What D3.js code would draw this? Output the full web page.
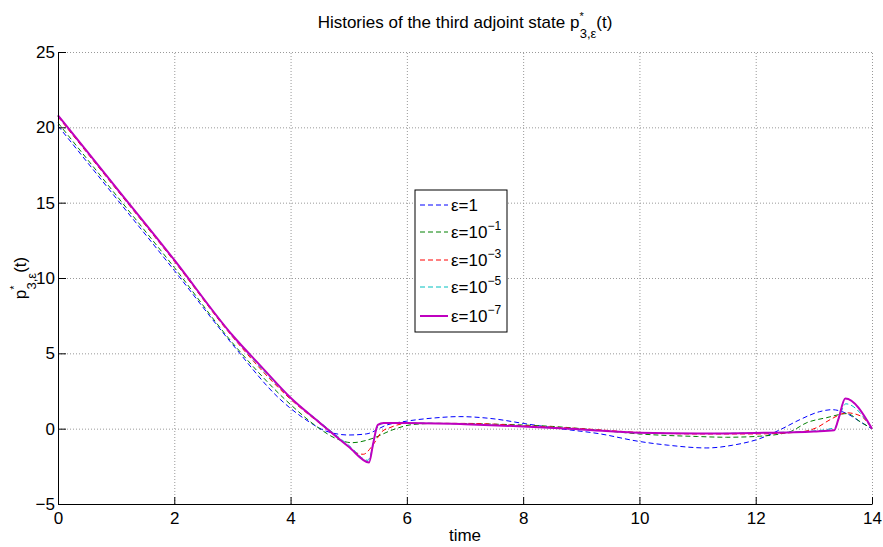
<!DOCTYPE html>
<html>
<head>
<meta charset="utf-8">
<script src="https://cdn.jsdelivr.net/npm/d3@7"></script>
<style>
  body { margin: 0; background: #fff; }
  svg { font-family: "Liberation Sans", Arial, Helvetica, sans-serif; }
</style>
</head>
<body>
<div id="chart"></div>
<script>
// tick values
var xTicks = [0, 2, 4, 6, 8, 10, 12, 14];
var yTicks = [-5, 0, 5, 10, 15, 20, 25];

// eps = 1
var tEps1 = [0, 1, 2, 3, 3.82, 4.3, 4.6, 5, 5.3, 5.66, 6, 6.5, 6.9, 7.5, 8, 8.63, 9.3, 10, 10.5, 11.16, 11.6, 12.07, 12.42, 12.76, 13.1, 13.31, 13.57, 13.8, 14];
var pEps1 = [20.1, 15.3, 10.5, 5.6, 1.95, 0.5, -0.15, -0.42, -0.35, 0.25, 0.5, 0.72, 0.8, 0.65, 0.35, 0, -0.33, -0.85, -1.1, -1.28, -1.1, -0.66, -0.07, 0.6, 1.13, 1.26, 1.0, 0.45, 0];
// eps = 1e-1
var tEps2 = [0, 1, 2, 3, 4, 4.5, 4.75, 5.06, 5.4, 5.76, 6.09, 6.5, 7.5, 8.5, 9.3, 10, 11, 11.5, 12.07, 12.59, 12.88, 13.22, 13.57, 13.8, 14];
var pEps2 = [20.3, 15.5, 10.7, 5.7, 1.6, 0, -0.6, -0.93, -0.66, -0.07, 0.27, 0.35, 0.3, 0.15, -0.1, -0.35, -0.52, -0.57, -0.5, -0.2, 0.4, 0.73, 1.0, 0.45, 0];
// eps = 1e-3
var tEps3 = [0, 1, 2, 3, 4, 4.5, 5, 5.1, 5.25, 5.42, 5.57, 5.71, 6, 7, 8, 9, 10, 11, 12, 12.8, 13.05, 13.28, 13.57, 13.8, 14];
var pEps3 = [20.7, 15.9, 11.1, 6.1, 1.95, 0.35, -1.2, -1.55, -1.7, -1.06, -0.2, 0.07, 0.35, 0.35, 0.2, 0, -0.25, -0.35, -0.35, -0.2, 0.07, 0.6, 1.05, 0.85, 0];
// eps = 1e-5
var tEps4 = [0, 1, 2, 3, 4, 4.5, 5, 5.33, 5.4, 5.48, 5.6, 6, 7, 8, 9, 10, 11, 12, 13, 13.36, 13.45, 13.55, 14];
var pEps4 = [20.8, 16.0, 11.2, 6.2, 2.05, 0.45, -1.1, -2.1, -1.4, 0, 0.35, 0.38, 0.3, 0.15, -0.05, -0.27, -0.32, -0.28, -0.15, 0.07, 0.93, 1.65, 0];
// eps = 1e-7
var tEps5 = [0, 1, 2, 3, 3.5, 4, 4.5, 5, 5.35, 5.42, 5.5, 5.6, 6, 7, 8, 9, 10, 11, 12, 13, 13.35, 13.42, 13.54, 14];
var pEps5 = [20.8, 16.0, 11.2, 6.2, 4.1, 2.05, 0.4, -1.2, -2.24, -1.0, 0.25, 0.38, 0.38, 0.3, 0.15, -0.05, -0.27, -0.32, -0.28, -0.18, -0.1, 0.6, 2.0, 0];

var seriesNames = ["1", "−1", "−3", "−5", "−7"];

var series = [
    { t: tEps1, p: pEps1, color: "#0000ff", dash: "5,3", w: 1 },
    { t: tEps2, p: pEps2, color: "#008000", dash: "5,3", w: 1 },
    { t: tEps3, p: pEps3, color: "#ff0000", dash: "5,3", w: 1 },
    { t: tEps4, p: pEps4, color: "#00bfbf", dash: "5,3", w: 1 },
    { t: tEps5, p: pEps5, color: "#bf00bf", dash: null, w: 2 }
];

var width = 883,
    height = 547,
    margin = { left: 58, right: 11, top: 52, bottom: 43 };

var svg = d3.select("#chart").append("svg")
    .attr("width", width)
    .attr("height", height);

var x = d3.scaleLinear().domain([0, 14]).range([margin.left, width - margin.right]);
var y = d3.scaleLinear().domain([-5, 25]).range([height - margin.bottom, margin.top]);

// dotted grid
svg.append("g")
    .attr("transform", "translate(0," + y(-5) + ")")
    .call(d3.axisBottom(x).tickValues(xTicks.slice(1)).tickSize(-(y(-5) - y(25))).tickFormat(""))
    .call(g => g.select(".domain").remove())
    .call(g => g.selectAll("line").attr("stroke", "#999").attr("stroke-dasharray", "1,2"));
svg.append("g")
    .attr("transform", "translate(" + x(0) + ",0)")
    .call(d3.axisLeft(y).tickValues(yTicks.slice(1)).tickSize(-(x(14) - x(0))).tickFormat(""))
    .call(g => g.select(".domain").remove())
    .call(g => g.selectAll("line").attr("stroke", "#999").attr("stroke-dasharray", "1,2"));

// curves
var line = d3.line()
    .x(d => x(d[0]))
    .y(d => y(d[1]))
    .curve(d3.curveMonotoneX);

series.forEach(function(s) {
    svg.append("path")
        .datum(d3.zip(s.t, s.p))
        .attr("d", line)
        .attr("fill", "none")
        .attr("stroke", s.color)
        .attr("stroke-width", s.w)
        .attr("stroke-dasharray", s.dash);
});

// axes
var fmt = d => d < 0 ? "−" + Math.abs(d) : d;
svg.append("g")
    .attr("transform", "translate(0," + y(-5) + ")")
    .call(d3.axisBottom(x).tickValues(xTicks).tickSizeInner(-7).tickSizeOuter(0).tickPadding(8).tickFormat(fmt))
    .call(g => g.selectAll("text").attr("font-size", 17).attr("fill", "#000").attr("font-family", null));
svg.append("g")
    .attr("transform", "translate(" + x(0) + ",0)")
    .call(d3.axisLeft(y).tickValues(yTicks).tickSizeInner(-8).tickSizeOuter(0).tickPadding(3).tickFormat(fmt))
    .call(g => g.selectAll("text").attr("font-size", 17).attr("fill", "#000").attr("font-family", null));

// title
var title = svg.append("text")
    .attr("x", (x(0) + x(14)) / 2)
    .attr("y", 28)
    .attr("text-anchor", "middle")
    .attr("font-size", 17);
title.append("tspan").text("Histories of the third adjoint state p");
title.append("tspan").attr("font-size", 11).attr("dy", -8).text("*");
title.append("tspan").attr("font-size", 13).attr("dx", -4).attr("dy", 18).text("3,ε");
title.append("tspan").attr("dy", -10).text("(t)");

// x label
svg.append("text")
    .attr("x", (x(0) + x(14)) / 2)
    .attr("y", 541)
    .attr("text-anchor", "middle")
    .attr("font-size", 17)
    .text("time");

// y label
var ylab = svg.append("text")
    .attr("transform", "translate(26," + (y(-5) + y(25)) / 2 + ") rotate(-90)")
    .attr("text-anchor", "middle")
    .attr("font-size", 17);
ylab.append("tspan").text("p");
ylab.append("tspan").attr("font-size", 11).attr("dy", -8).text("*");
ylab.append("tspan").attr("font-size", 13).attr("dx", -4).attr("dy", 18).text("3,ε");
ylab.append("tspan").attr("dy", -10).text("(t)");

// legend
var legend = svg.append("g").attr("transform", "translate(415,190)");
legend.append("rect")
    .attr("width", 92)
    .attr("height", 142)
    .attr("fill", "#fff")
    .attr("stroke", "#000")
    .attr("stroke-width", 1);

var rowY = [15, 42, 70, 97, 126];
series.forEach(function(s, i) {
    var row = legend.append("g").attr("transform", "translate(0," + rowY[i] + ")");
    row.append("line")
        .attr("x1", 5).attr("x2", 33)
        .attr("stroke", s.color)
        .attr("stroke-width", s.w)
        .attr("stroke-dasharray", s.dash);
    var t = row.append("text")
        .attr("x", 36)
        .attr("y", 6)
        .attr("font-size", 17);
    if (i === 0) {
        t.text("ε=1");
    } else {
        t.append("tspan").text("ε=10");
        t.append("tspan").attr("font-size", 12).attr("dy", -8).text(seriesNames[i]);
    }
});
</script>
</body>
</html>
